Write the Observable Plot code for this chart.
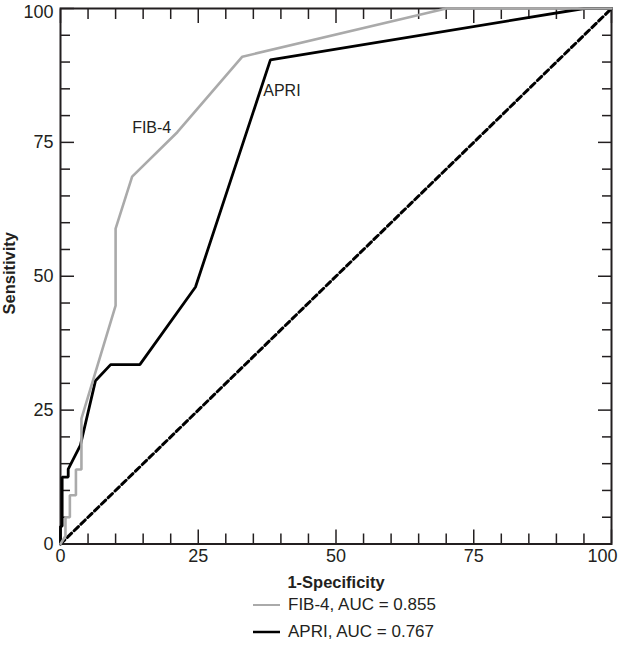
<!DOCTYPE html>
<html>
<head>
<meta charset="utf-8">
<script src="https://cdn.jsdelivr.net/npm/d3@7"></script>
<script src="https://cdn.jsdelivr.net/npm/@observablehq/plot@0.6"></script>
<style>
  html, body { margin: 0; padding: 0; background: #fff; }
  #wrap { position: relative; width: 618px; height: 651px; overflow: hidden; font-family: "Liberation Sans Narrow", "Liberation Sans", "DejaVu Sans", sans-serif; font-stretch: condensed; color: #231f20; }
  #legend { position: absolute; left: 253px; top: 592px; }
  .row { display: flex; align-items: center; height: 26.7px; font-size: 17px; white-space: nowrap; }
  .row svg { margin-right: 8px; }
  #chart svg text { font-stretch: condensed; }
</style>
</head>
<body>
<div id="wrap"><div id="chart"></div><div id="legend"></div></div>
<script>
// ---- data (percent) ----
const fib4Fpr = [0, 0.9, 0.9, 1.7, 1.7, 2.8, 2.8, 3.8, 3.8, 10.0, 10.0, 13.0, 21.2, 33.0, 70.0, 100];
const fib4Tpr = [0, 1.5, 5.0, 5.0, 9.1, 9.1, 13.9, 13.9, 23.4, 44.5, 58.9, 68.6, 76.9, 91.0, 100, 100];
const apriFpr = [0, 0, 0.3, 0.3, 1.4, 1.4, 3.6, 6.35, 9.1, 14.4, 24.5, 38.1, 95.0, 100];
const apriTpr = [0, 3.3, 3.3, 12.5, 12.5, 14.0, 18.4, 30.5, 33.5, 33.5, 48.0, 90.4, 100, 100];
const refFpr = [0, 100];
const refTpr = [0, 100];

const seriesNames = ["FIB-4", "APRI"];
const seriesAUC = ["0.855", "0.767"];
const seriesColors = ["#aaaaaa", "#000000"];
const labelX = [13.0, 36.8];
const labelY = [77.8, 84.6];

const majorTicks = [0, 25, 50, 75, 100];
const minorTicks = [5, 10, 15, 20, 30, 35, 40, 45, 55, 60, 65, 70, 80, 85, 90, 95];
const xTitle = "1-Specificity";
const yTitle = "Sensitivity";

// ---- tables ----
const fib4 = fib4Fpr.map((x, i) => ({x, y: fib4Tpr[i]}));
const apri = apriFpr.map((x, i) => ({x, y: apriTpr[i]}));
const ref = refFpr.map((x, i) => ({x, y: refTpr[i]}));
const labels = seriesNames.map((name, i) => ({name, x: labelX[i], y: labelY[i]}));

const ink = "#231f20";
const font = '"Liberation Sans Narrow", "Liberation Sans", "DejaVu Sans", sans-serif';

// inward tick helpers
function inwardTicks(ticks, size) {
  return [
    Plot.axisX({anchor: "bottom", ticks, tickSize: size, dy: -size, fill: "none", label: null, stroke: ink, strokeWidth: 1.5}),
    Plot.axisX({anchor: "top", ticks, tickSize: size, dy: size, fill: "none", label: null, stroke: ink, strokeWidth: 1.5}),
    Plot.axisY({anchor: "left", ticks, tickSize: size, dx: size, fill: "none", label: null, stroke: ink, strokeWidth: 1.5}),
    Plot.axisY({anchor: "right", ticks, tickSize: size, dx: -size, fill: "none", label: null, stroke: ink, strokeWidth: 1.5})
  ];
}

const tickFont = 18;
const chart = Plot.plot({
  width: 618,
  height: 596,
  marginLeft: 60,
  marginRight: 7,
  marginTop: 8,
  marginBottom: 52.5,
  x: {domain: [0, 100]},
  y: {domain: [0, 100]},
  style: {fontFamily: font, fontSize: "18px", color: ink, background: "#fff"},
  marks: [
    ...inwardTicks(minorTicks, 10),
    ...inwardTicks(majorTicks, 14),
    Plot.axisX({anchor: "bottom", ticks: majorTicks.slice(0, 4), tickSize: 0, tickPadding: 5, label: null, fill: ink, fontSize: tickFont}),
    Plot.axisX({anchor: "bottom", ticks: majorTicks.slice(4), tickSize: 0, tickPadding: 5, label: null, fill: ink, fontSize: tickFont, textAnchor: "end", dx: 6}),
    Plot.axisY({anchor: "left", ticks: majorTicks.slice(0, 4), tickSize: 0, tickPadding: 7, label: null, fill: ink, fontSize: tickFont}),
    Plot.axisY({anchor: "left", ticks: majorTicks.slice(4), tickSize: 0, tickPadding: 7, label: null, fill: ink, fontSize: tickFont, dy: 4}),
    Plot.frame({stroke: ink, strokeWidth: 2}),
    Plot.line(ref, {x: "x", y: "y", stroke: "#000", strokeWidth: 3, strokeDasharray: "6,3.5"}),
    Plot.line(apri, {x: "x", y: "y", stroke: seriesColors[1], strokeWidth: 2.8, strokeLinejoin: "miter"}),
    Plot.line(fib4, {x: "x", y: "y", stroke: seriesColors[0], strokeWidth: 2.6, strokeLinejoin: "miter"}),
    Plot.text(labels, {x: "x", y: "y", text: "name", textAnchor: "start", fontSize: 16, fill: ink}),
    Plot.text([xTitle], {text: d => d, frameAnchor: "bottom", lineAnchor: "middle", dy: 38.5, fontWeight: "bold", fontSize: 16.5, fill: ink}),
    Plot.text([yTitle], {text: d => d, frameAnchor: "left", textAnchor: "middle", lineAnchor: "middle", dx: -51, dy: -3, rotate: -90, fontWeight: "bold", fontSize: 16.5, fill: ink})
  ]
});
document.getElementById("chart").appendChild(chart);

// ---- legend ----
const legend = d3.select("#legend");
seriesNames.forEach((name, i) => {
  const row = legend.append("div").attr("class", "row");
  const sw = row.append("svg").attr("width", 27).attr("height", 10);
  sw.append("line").attr("x1", 0).attr("x2", 27).attr("y1", 5).attr("y2", 5)
    .attr("stroke", seriesColors[i]).attr("stroke-width", i === 0 ? 2 : 2.5);
  row.append("span").text(`${name}, AUC = ${seriesAUC[i]}`);
});
</script>
</body>
</html>
